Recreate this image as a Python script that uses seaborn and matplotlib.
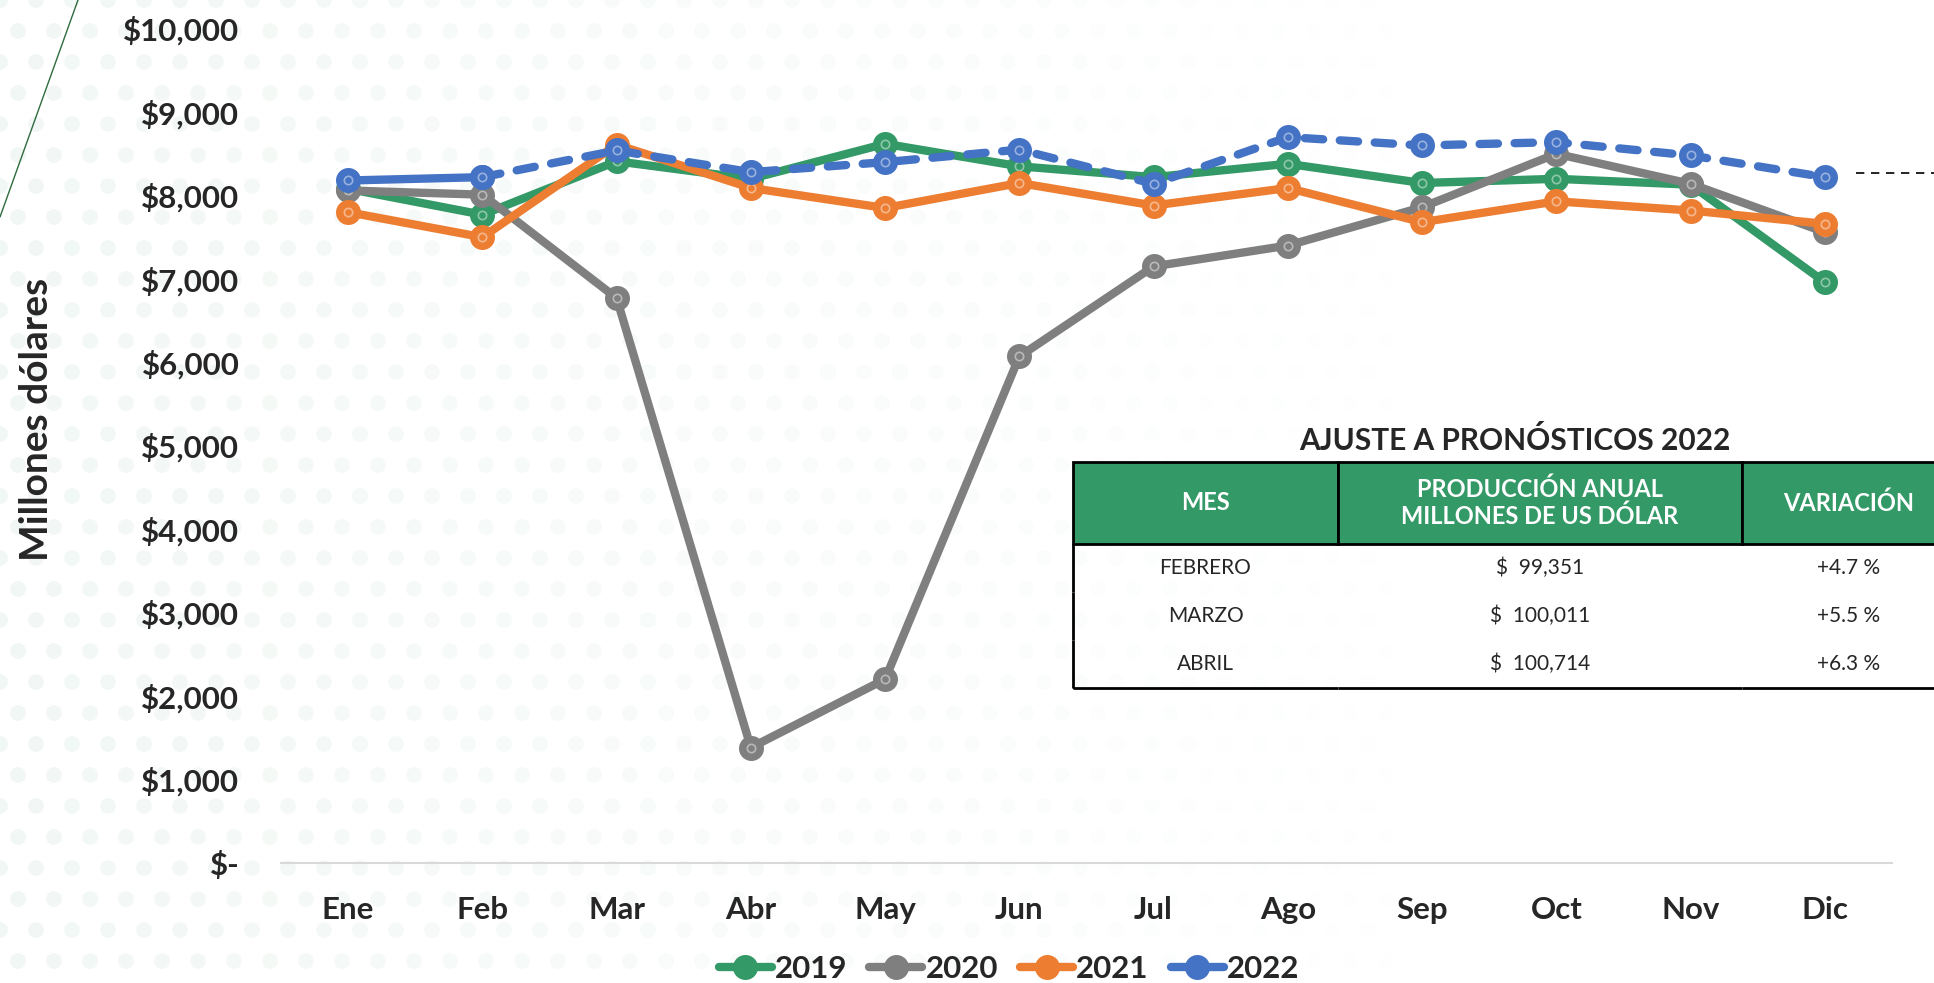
import numpy as np
import pandas as pd
import matplotlib.pyplot as plt
import seaborn as sns
from matplotlib.lines import Line2D
from matplotlib.ticker import FuncFormatter

# data
months = ["Ene", "Feb", "Mar", "Abr", "May", "Jun", "Jul", "Ago", "Sep", "Oct", "Nov", "Dic"]
v2019 = [8080, 7770, 8410, 8200, 8620, 8350, 8220, 8380, 8150, 8200, 8130, 6960]
v2020 = [8060, 8010, 6770, 1380, 2200, 6070, 7150, 7400, 7860, 8500, 8140, 7560]
v2021 = [7800, 7500, 8610, 8090, 7850, 8150, 7880, 8090, 7680, 7930, 7820, 7660]
v2022 = [8180, 8220, 8540, 8280, 8400, 8550, 8140, 8700, 8600, 8640, 8480, 8220]
n_actual_2022 = 2  # Ene, Feb are real; the rest is forecast (dashed)

tab_title = "AJUSTE A PRONÓSTICOS 2022"
tab_cols = ["MES", "PRODUCCIÓN ANUAL\nMILLONES DE US DÓLAR", "VARIACIÓN"]
tab_months = ["FEBRERO", "MARZO", "ABRIL"]
tab_prod = ["$  99,351", "$  100,011", "$  100,714"]
tab_var = ["+4.7 %", "+5.5 %", "+6.3 %"]

green = "#339966"
gray = "#7f7f7f"
orange = "#ed7d31"
blue = "#4472c4"

sns.set_theme(style="white")
plt.rcParams['font.family'] = ['Lato', 'DejaVu Sans']

W, H = 1934, 983
fig = plt.figure(figsize=(W / 100, H / 100), dpi=100)
fig.patch.set_facecolor("white")

# faint dotted background, fading to the right
bg = fig.add_axes([0, 0, 1, 1], zorder=-5)
bg.set_xlim(0, W)
bg.set_ylim(H, 0)
bg.axis('off')
gx, gy = np.meshgrid(np.arange(0, W, 36), np.arange(0, H, 31))
gx = gx + (gy // 31 % 2) * 18
gx, gy = gx.ravel(), gy.ravel()
fade = np.clip(1 - gx / 1400, 0, 1) * 0.32
cols = np.zeros((len(gx), 4))
cols[:, :3] = [0.84, 0.91, 0.88]
cols[:, 3] = fade
bg.scatter(gx, gy, s=130, c=cols, linewidths=0)

ax = fig.add_axes([281 / W, 1 - 862.7 / H, (1892 - 281) / W, (862.7 - 28.7) / H])
ax.patch.set_alpha(0)

x = np.arange(len(months))
line_kw = dict(linewidth=6, marker='o', markersize=18, markeredgewidth=0,
               solid_capstyle='round', solid_joinstyle='round', ax=ax)

for name, vals, col in [("2019", v2019, green), ("2020", v2020, gray), ("2021", v2021, orange)]:
    sns.lineplot(x=x, y=vals, color=col, label=name, markeredgecolor=col, **line_kw)
    ax.plot(x, vals, ls='none', marker='o', ms=6, mfc='none', mec='white', mew=1.2, alpha=0.45)

# 2022: forecast part dashed, actual part solid
sns.lineplot(x=x[n_actual_2022 - 1:], y=v2022[n_actual_2022 - 1:], color=blue,
             markeredgecolor=blue, linestyle=(0, (2.2, 2.0)), dash_capstyle='round',
             legend=False, **line_kw)
sns.lineplot(x=x[:n_actual_2022], y=v2022[:n_actual_2022], color=blue, label="2022",
             markeredgecolor=blue, **line_kw)
ax.plot(x, v2022, ls='none', marker='o', ms=6, mfc='none', mec='white', mew=1.2, alpha=0.45)

ax.set_xlim(-0.5, len(months) - 0.5)
ax.set_ylim(0, 10000)
ax.set_yticks(np.arange(0, 10001, 1000))
ax.yaxis.set_major_formatter(FuncFormatter(lambda v, p: "$-" if v == 0 else f"${v:,.0f}"))
ax.set_xticks(x)
ax.set_xticklabels(months)
ax.tick_params(axis='y', length=0, pad=30, labelsize=22.5)
ax.tick_params(axis='x', length=0, pad=24, labelsize=22.5)
for lab in ax.get_xticklabels() + ax.get_yticklabels():
    lab.set_fontweight('bold')
ax.grid(False)
for s in ['top', 'right', 'left']:
    ax.spines[s].set_visible(False)
ax.spines['bottom'].set_color('#d9d9d9')
ax.spines['bottom'].set_linewidth(1.5)

ax.set_xlabel("")
ax.set_ylabel("Millones dólares", fontsize=28, fontweight='bold')
ax.yaxis.set_label_coords(-0.141, 0.531)

ax.legend(loc='center', bbox_to_anchor=(1009 / W, 1 - 969 / H), bbox_transform=fig.transFigure,
          ncol=4, frameon=False, prop={'size': 22.5, 'weight': 'bold'},
          handlelength=1.7, handletextpad=0.1, columnspacing=0.7)

# forecast table
fig.text(1515 / W, 1 - 440 / H, tab_title, ha='center', va='center', fontsize=21.5, fontweight='bold')
tab_ax = fig.add_axes([1073 / W, 1 - 688 / H, 883 / W, 226 / H])
tab_ax.axis('off')
cell_text = [[m, p, v] for m, p, v in zip(tab_months, tab_prod, tab_var)]
tbl = tab_ax.table(cellText=cell_text, colLabels=tab_cols, cellLoc='center',
                   colWidths=[265 / 883, 404 / 883, 214 / 883], bbox=[0, 0, 1, 1])
tbl.auto_set_font_size(False)
nrows = len(tab_months)
for (r, c), cell in tbl.get_celld().items():
    if r == 0:
        cell.set_height(82 / 226)
        cell.set_facecolor(green)
        cell.set_edgecolor('black')
        cell.set_linewidth(2)
        cell.get_text().set_color('white')
        cell.get_text().set_fontweight('bold')
        cell.get_text().set_fontsize(17)
    else:
        cell.set_height(48 / 226)
        cell.set_facecolor('white')
        cell.set_edgecolor('black')
        cell.set_linewidth(2)
        cell.get_text().set_fontsize(15)
        edges = {0: 'L', 1: '', 2: 'R'}[c]
        if r == nrows:
            edges += 'B'
        cell.visible_edges = edges if edges else 'open'

# decorations
fig.add_artist(Line2D([1856 / W, 1.0], [1 - 172.7 / H] * 2, color='black', lw=1.2, ls=(0, (5, 4))))
fig.add_artist(Line2D([0, 78 / W], [1 - 217 / H, 1], color='#2e6b3e', lw=1))

fig.savefig("out.png", dpi=100)
